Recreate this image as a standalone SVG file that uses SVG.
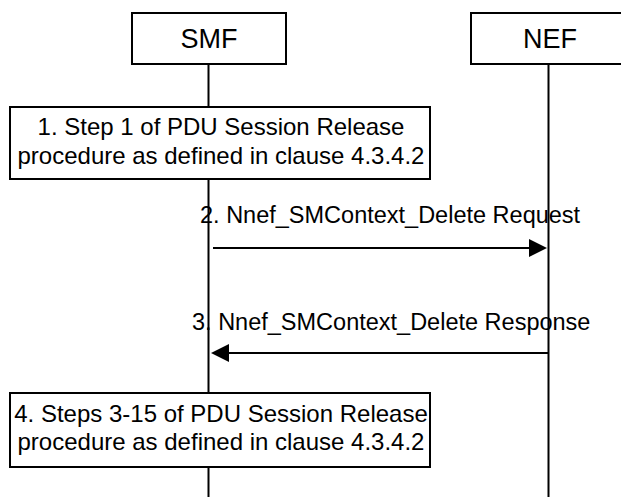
<svg xmlns="http://www.w3.org/2000/svg" width="621" height="497" viewBox="0 0 621 497">
  <style>
    .box { fill: #ffffff; stroke: #000000; stroke-width: 2; }
    .life { stroke: #000000; stroke-width: 2; fill: none; }
    .msg { stroke: #000000; stroke-width: 2; fill: none; marker-end: url(#arrow); }
    text { font-family: "Liberation Sans", Arial, sans-serif; fill: #000000; }
    .title { font-size: 27px; text-anchor: middle; }
    .boxtxt { font-size: 24px; text-anchor: middle; }
    .lbl { font-size: 23.5px; }
  </style>
  <defs>
    <marker id="arrow" markerUnits="userSpaceOnUse" markerWidth="18" markerHeight="18" viewBox="0 0 18 18" refX="11" refY="9" orient="auto">
      <path d="M0,0 L18,9 L0,18 Z" fill="#000000"/>
    </marker>
  </defs>
  <rect width="621" height="497" fill="#ffffff"/>
  <g id="lifelines">
    <line class="life" x1="208.5" y1="64" x2="208.5" y2="497"/>
    <line class="life" x1="548.5" y1="64" x2="548.5" y2="497"/>
  </g>
  <g id="smf">
    <rect class="box" x="132" y="13" width="154" height="51"/>
    <text class="title" x="209" y="48">SMF</text>
  </g>
  <g id="nef">
    <rect class="box" x="471" y="13" width="155" height="51"/>
    <text class="title" x="550" y="48">NEF</text>
  </g>
  <g id="step1">
    <rect class="box" x="10" y="107" width="420" height="72"/>
    <text class="boxtxt" x="221" y="135">1. Step 1 of PDU Session Release</text>
    <text class="boxtxt" x="221" y="164">procedure as defined in clause 4.3.4.2</text>
  </g>
  <g id="step4">
    <rect class="box" x="10" y="393" width="420" height="74"/>
    <text class="boxtxt" x="221" y="422">4. Steps 3-15 of PDU Session Release</text>
    <text class="boxtxt" x="221" y="450">procedure as defined in clause 4.3.4.2</text>
  </g>
  <g id="connectors">
    <line class="msg" x1="213" y1="248" x2="540" y2="248"/>
    <text class="lbl" x="200" y="223">2. Nnef_SMContext_Delete Request</text>
    <line class="msg" x1="548" y1="353" x2="218" y2="353"/>
    <text class="lbl" x="192" y="330">3. Nnef_SMContext_Delete Response</text>
  </g>
</svg>
